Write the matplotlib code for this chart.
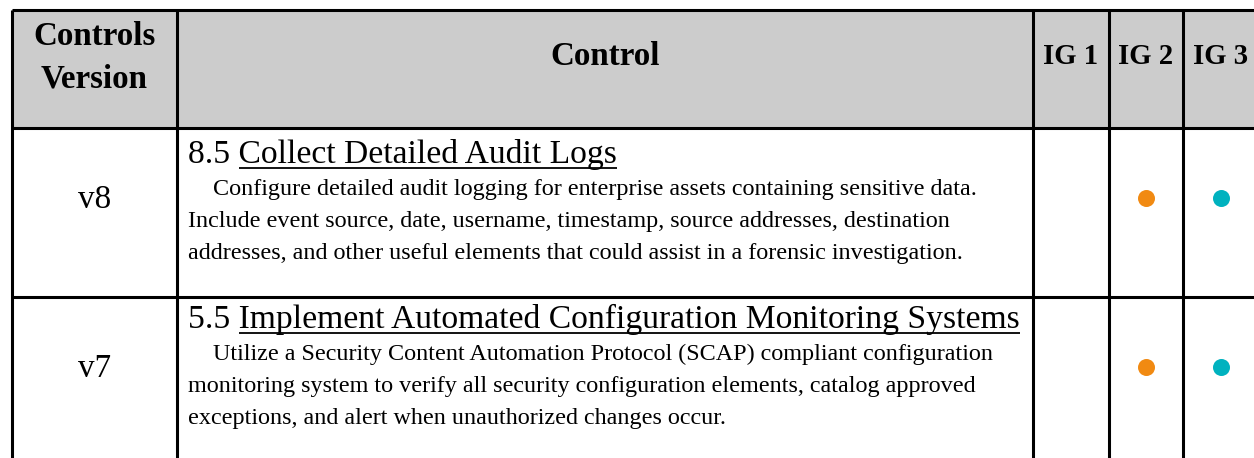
import matplotlib
matplotlib.use("Agg")
import matplotlib.pyplot as plt

# ---- data ----
header_labels = ["Controls\nVersion", "Control", "IG 1", "IG 2", "IG 3"]
versions = ["v8", "v7"]
control_ids = ["8.5", "5.5"]
control_titles = ["Collect Detailed Audit Logs",
                  "Implement Automated Configuration Monitoring Systems"]
control_desc = [
    ["Configure detailed audit logging for enterprise assets containing sensitive data.",
     "Include event source, date, username, timestamp, source addresses, destination",
     "addresses, and other useful elements that could assist in a forensic investigation."],
    ["Utilize a Security Content Automation Protocol (SCAP) compliant configuration",
     "monitoring system to verify all security configuration elements, catalog approved",
     "exceptions, and alert when unauthorized changes occur."],
]
ig1 = [False, False]
ig2 = [True, True]
ig3 = [True, True]

# ---- layout (pixels) ----
W, H = 1254, 458
col_x = [12, 177, 1033, 1109, 1183, 1258]
top_y, head_y = 10, 128.3
row_tops = [128.3, 296.7]
title_base = [163, 328]
ver_base = [208, 377]
line_gap = 31.8
FONT = "Liberation Serif"
GRID = "black"
LW = 2.2
ORANGE = "#F18A12"
TEAL = "#00B2BF"

fig = plt.figure(figsize=(W / 100, H / 100), dpi=100)
ax = fig.add_axes([0, 0, 1, 1])
ax.set_xlim(0, W)
ax.set_ylim(H, 0)
ax.axis("off")
renderer = fig.canvas.get_renderer()


def width_of(s, size, weight="normal"):
    t = ax.text(0, 0, s, fontsize=size, family=FONT, fontweight=weight)
    w = t.get_window_extent(renderer).width
    t.remove()
    return w


def fit(s, target, weight="normal"):
    return 20 * target / width_of(s, 20, weight)


head_size = (fit("Control", 107, "bold") + fit("Controls", 124, "bold")) / 2
ig_size = fit("IG 1", 55, "bold")
title_size = fit(control_ids[1] + " " + control_titles[1], 831)
body_size = fit(control_desc[0][0], 764)
ver_size = fit("v8", 33)

# header background
ax.fill_between([col_x[0], W + 10], top_y, head_y, color="#CCCCCC", zorder=0, lw=0)

# grid lines
ax.hlines([top_y, head_y] + row_tops[1:], col_x[0], W + 10, colors=GRID, lw=LW, zorder=3)
ax.vlines(col_x, top_y, H + 10, colors=GRID, lw=LW, zorder=3)

# header text
centers = [(col_x[i] + col_x[i + 1]) / 2 for i in range(5)]
ax.text(centers[0], 45, "Controls", ha="center", va="baseline", fontsize=head_size,
        family=FONT, fontweight="bold")
ax.text(centers[0], 87, "Version", ha="center", va="baseline", fontsize=head_size,
        family=FONT, fontweight="bold")
ax.text(centers[1], 65, header_labels[1], ha="center", va="baseline", fontsize=head_size,
        family=FONT, fontweight="bold")
for i in range(2, 5):
    ax.text(centers[i], 64, header_labels[i], ha="center", va="baseline",
            fontsize=ig_size, family=FONT, fontweight="bold")

# rows
tx = 188
for r in range(len(versions)):
    ax.text(centers[0], ver_base[r], versions[r], ha="center", va="baseline",
            fontsize=ver_size, family=FONT)
    full = control_ids[r] + " " + control_titles[r]
    t = ax.text(tx, title_base[r], full, ha="left", va="baseline",
                fontsize=title_size, family=FONT)
    bb = t.get_window_extent(renderer)
    wt = width_of(control_titles[r], title_size)
    ax.plot([bb.x1 - wt, bb.x1], [title_base[r] + 5, title_base[r] + 5],
            color="black", lw=1.3, solid_capstyle="butt")
    for k, line in enumerate(control_desc[r]):
        ax.text(tx + (25 if k == 0 else 0), title_base[r] + 32 + k * line_gap, line,
                ha="left", va="baseline", fontsize=body_size, family=FONT)
    dot_y = row_tops[r] + 70
    for ci, flags, col in [(2, ig1, ORANGE), (3, ig2, ORANGE), (4, ig3, TEAL)]:
        if flags[r]:
            ax.scatter([centers[ci]], [dot_y], s=150, color=col, zorder=4, lw=0)

fig.savefig("out.png", dpi=100)
